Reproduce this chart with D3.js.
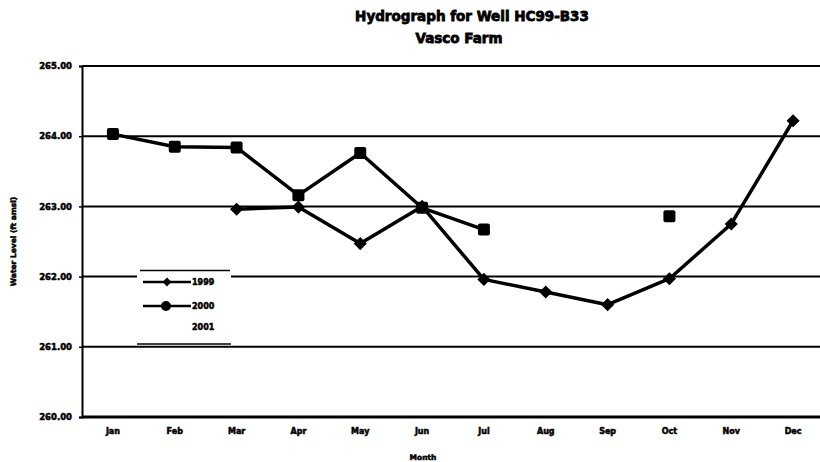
<!DOCTYPE html>
<html>
<head>
<meta charset="utf-8">
<script src="https://cdn.jsdelivr.net/npm/d3@7"></script>
<style>
  body { margin: 0; background: #fff; }
  text { font-family: 'DejaVu Sans', sans-serif; font-weight: bold; fill: #000; stroke: #000; stroke-width: 0.5px; }
</style>
</head>
<body>
<div id="wrapper"></div>
<script>
// Data
const months = ['Jan', 'Feb', 'Mar', 'Apr', 'May', 'Jun', 'Jul', 'Aug', 'Sep', 'Oct', 'Nov', 'Dec'];
const level1999 = [null, null, 262.96, 262.99, 262.47, 263.0, 261.96, 261.78, 261.6, 261.97, 262.75, 264.22];
const level2000 = [264.03, 263.85, 263.84, 263.16, 263.76, 262.98, 262.67, null, null, 262.86, null, null];
const level2001 = [null, null, null, null, null, null, null, null, null, null, null, null];
const yTicks = [260, 261, 262, 263, 264, 265];
const legendYears = ['1999', '2000', '2001'];

function drawChart() {
  const dimensions = {
    width: 820,
    height: 462,
    margin: { top: 66, right: -4, bottom: 45, left: 82 },
  };
  dimensions.boundedWidth = dimensions.width - dimensions.margin.left - dimensions.margin.right;
  dimensions.boundedHeight = dimensions.height - dimensions.margin.top - dimensions.margin.bottom;

  const xScale = d3.scaleBand().domain(months).range([0, dimensions.boundedWidth]);
  const xCenter = (m) => xScale(m) + xScale.bandwidth() / 2;
  const yScale = d3.scaleLinear().domain([260, 265]).range([dimensions.boundedHeight, 0]);

  const svg = d3.select('#wrapper').append('svg')
    .attr('width', dimensions.width)
    .attr('height', dimensions.height);

  const bounds = svg.append('g')
    .attr('transform', `translate(${dimensions.margin.left}, ${dimensions.margin.top})`);

  // gridlines
  bounds.append('g').selectAll('line').data(yTicks).join('line')
    .attr('x1', 0).attr('x2', dimensions.boundedWidth)
    .attr('y1', (d) => yScale(d)).attr('y2', (d) => yScale(d))
    .attr('stroke', '#000')
    .attr('stroke-width', (d) => (d === 260 ? 3 : 2));

  // y axis
  const yAxis = d3.axisLeft(yScale).tickValues(yTicks).tickFormat(d3.format('.2f')).tickSize(3).tickPadding(7);
  const yAxisG = bounds.append('g').call(yAxis);
  yAxisG.select('.domain').attr('stroke-width', 2);
  yAxisG.selectAll('.tick line').attr('stroke-width', 1.5);
  yAxisG.selectAll('text').style('font-size', '8.5px').style('font-family', "'DejaVu Sans', sans-serif");

  // x axis labels
  const xAxis = d3.axisBottom(xScale).tickSize(0).tickPadding(11);
  const xAxisG = bounds.append('g')
    .attr('transform', `translate(0, ${dimensions.boundedHeight})`)
    .call(xAxis);
  xAxisG.select('.domain').remove();
  xAxisG.selectAll('text').style('font-size', '8px').style('font-family', "'DejaVu Sans', sans-serif");

  // lines
  const lineGenerator = (values) => d3.line()
    .defined((d, i) => values[i] !== null)
    .x((d, i) => xCenter(months[i]))
    .y((d) => yScale(d));

  [level1999, level2000, level2001].forEach((values) => {
    bounds.append('path')
      .attr('d', lineGenerator(values)(values))
      .attr('fill', 'none')
      .attr('stroke', '#000')
      .attr('stroke-width', 3.5)
      .attr('stroke-linejoin', 'round');
  });

  const pts = (values) => values.map((v, i) => ({ m: months[i], v })).filter((d) => d.v !== null);

  // 1999 diamonds
  bounds.append('g').selectAll('path').data(pts(level1999)).join('path')
    .attr('d', d3.symbol().type(d3.symbolDiamond2).size(110))
    .attr('transform', (d) => `translate(${xCenter(d.m)}, ${yScale(d.v)})`)
    .attr('fill', '#000');

  // 2000 squares
  bounds.append('g').selectAll('rect').data(pts(level2000)).join('rect')
    .attr('x', (d) => xCenter(d.m) - 6)
    .attr('y', (d) => yScale(d.v) - 6)
    .attr('width', 12).attr('height', 12)
    .attr('rx', 2)
    .attr('fill', '#000');

  // legend
  const legend = svg.append('g').attr('transform', 'translate(137, 270)');
  legend.append('rect').attr('x', 0).attr('y', 0).attr('width', 94).attr('height', 74).attr('fill', '#fff');
  legend.append('line').attr('x1', 3).attr('x2', 93).attr('y1', 0.5).attr('y2', 0.5).attr('stroke', '#000').attr('stroke-width', 1.5);
  legend.append('line').attr('x1', 0).attr('x2', 94).attr('y1', 74).attr('y2', 74).attr('stroke', '#000').attr('stroke-width', 1.5);
  const rowY = [12, 36, 57];
  legendYears.forEach((year, i) => {
    const row = legend.append('g').attr('transform', `translate(0, ${rowY[i]})`);
    if (i < 2) {
      row.append('line').attr('x1', 6).attr('x2', 54).attr('stroke', '#000').attr('stroke-width', 2.5);
    }
    if (i === 0) {
      row.append('path').attr('d', d3.symbol().type(d3.symbolDiamond2).size(50)).attr('transform', 'translate(30,0)');
    }
    if (i === 1) {
      row.append('circle').attr('cx', 29).attr('r', 5);
    }
    row.append('text').attr('x', 55).attr('dy', '0.35em').style('font-size', '8px').text(year);
  });

  // titles
  svg.append('text').attr('x', 472).attr('y', 21).attr('text-anchor', 'middle')
    .style('font-size', '13.5px').style('stroke-width', '0.8px').text('Hydrograph for Well HC99-B33');
  svg.append('text').attr('x', 459).attr('y', 43).attr('text-anchor', 'middle')
    .style('font-size', '13.5px').style('stroke-width', '0.8px').text('Vasco Farm');

  // axis titles
  svg.append('text').attr('x', dimensions.margin.left + dimensions.boundedWidth / 2 - 30).attr('y', 460)
    .attr('text-anchor', 'middle').style('font-size', '7.5px').text('Month');
  svg.append('text')
    .attr('transform', `translate(16, ${dimensions.margin.top + dimensions.boundedHeight / 2}) rotate(-90)`)
    .attr('text-anchor', 'middle').style('font-size', '7.5px').text('Water Level (ft amsl)');
}
drawChart();
</script>
</body>
</html>
